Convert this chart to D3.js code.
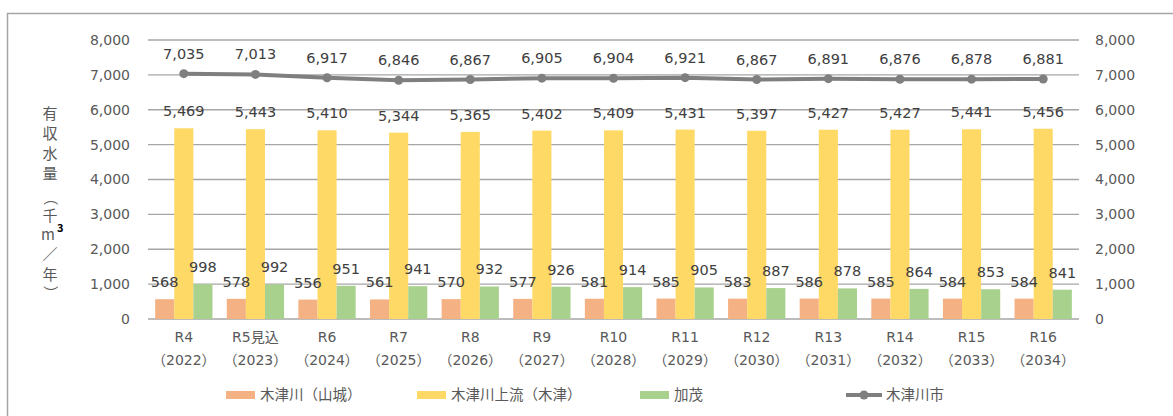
<!DOCTYPE html>
<html>
<head>
<meta charset="utf-8">
<script src="https://cdn.jsdelivr.net/npm/d3@7"></script>
<style>
  body { margin: 0; background: #fff; }
  svg text { font-family: "Noto Sans CJK JP", "Noto Sans", sans-serif; }
  svg text.num { font-family: "DejaVu Sans", "Noto Sans CJK JP", sans-serif; }
</style>
</head>
<body>
<svg id="chart" width="1173" height="416"></svg>
<script>
// data
var categories = ['R4', 'R5見込', 'R6', 'R7', 'R8', 'R9', 'R10', 'R11', 'R12', 'R13', 'R14', 'R15', 'R16'];
var years = ['2022', '2023', '2024', '2025', '2026', '2027', '2028', '2029', '2030', '2031', '2032', '2033', '2034'];
var yamashiro = [568, 578, 556, 561, 570, 577, 581, 585, 583, 586, 585, 584, 584];
var jouryuu = [5469, 5443, 5410, 5344, 5365, 5402, 5409, 5431, 5397, 5427, 5427, 5441, 5456];
var kamo = [998, 992, 951, 941, 932, 926, 914, 905, 887, 878, 864, 853, 841];
var kizugawaShi = [7035, 7013, 6917, 6846, 6867, 6905, 6904, 6921, 6867, 6891, 6876, 6878, 6881];
var yTicks = [0, 1000, 2000, 3000, 4000, 5000, 6000, 7000, 8000];

var barSeries = [
	{ name: '木津川（山城）', values: yamashiro, color: '#F4B183' },
	{ name: '木津川上流（木津）', values: jouryuu, color: '#FFD966' },
	{ name: '加茂', values: kamo, color: '#A9D18E' }
];
var lineSeries = { name: '木津川市', values: kizugawaShi, color: '#7F7F7F' };

var svg = d3.select('#chart');
var fmt = d3.format(',');

var plot = { left: 148, right: 1079, top: 40, bottom: 319 };

// outer frame
svg.append('rect')
	.attr('x', 7.5).attr('y', 13.5)
	.attr('width', 1180).attr('height', 420)
	.attr('fill', 'none')
	.attr('stroke', '#A6A6A6')
	.attr('stroke-width', 1.5);

var x = d3.scaleBand()
	.domain(categories)
	.range([plot.left, plot.right])
	.paddingInner(0.2)
	.paddingOuter(0.1);

var xSub = d3.scaleBand()
	.domain(barSeries.map(function(s) { return s.name; }))
	.range([0, x.bandwidth()]);

var y = d3.scaleLinear()
	.domain([0, 8000])
	.range([plot.bottom, plot.top]);

// gridlines
svg.append('g')
	.selectAll('line')
	.data(yTicks)
	.enter()
	.append('line')
	.attr('x1', plot.left).attr('x2', plot.right)
	.attr('y1', function(d) { return y(d); })
	.attr('y2', function(d) { return y(d); })
	.attr('stroke', '#A6A6A6')
	.attr('stroke-width', 1.3);

// left and right axes
var axisL = svg.append('g')
	.attr('transform', 'translate(' + (plot.left - 18) + ',0)')
	.call(d3.axisLeft(y).tickValues(yTicks).tickFormat(fmt).tickSize(0).tickPadding(0));
var axisR = svg.append('g')
	.attr('transform', 'translate(' + (plot.right + 16) + ',0)')
	.call(d3.axisRight(y).tickValues(yTicks).tickFormat(fmt).tickSize(0).tickPadding(0));

[axisL, axisR].forEach(function(a) {
	a.attr('font-family', null).attr('font-size', null);
	a.select('.domain').remove();
	a.selectAll('text')
		.attr('class', 'num')
		.style('font-size', '14px')
		.attr('fill', '#595959');
});

// flatten bar data once
var barData = [];
barSeries.forEach(function(s) {
	s.values.forEach(function(v, i) { barData.push({ s: s, v: v, i: i }); });
});

function barX(d) { return x(categories[d.i]) + xSub(d.s.name); }

// bars
svg.append('g')
	.selectAll('rect')
	.data(barData)
	.enter()
	.append('rect')
	.attr('x', barX)
	.attr('y', function(d) { return y(d.v); })
	.attr('width', xSub.bandwidth())
	.attr('height', function(d) { return y(0) - y(d.v); })
	.attr('fill', function(d) { return d.s.color; });

// line
var lineGen = d3.line()
	.x(function(d, i) { return x(categories[i]) + x.bandwidth() / 2; })
	.y(function(d) { return y(d); });

svg.append('path')
	.datum(lineSeries.values)
	.attr('d', lineGen)
	.attr('fill', 'none')
	.attr('stroke', lineSeries.color)
	.attr('stroke-width', 4)
	.attr('stroke-linejoin', 'round');

svg.append('g')
	.selectAll('circle')
	.data(lineSeries.values)
	.enter()
	.append('circle')
	.attr('cx', function(d, i) { return x(categories[i]) + x.bandwidth() / 2; })
	.attr('cy', function(d) { return y(d); })
	.attr('r', 4.5)
	.attr('fill', lineSeries.color);

// bar labels (on top of all bars)
svg.append('g')
	.selectAll('text')
	.data(barData)
	.enter()
	.append('text')
	.attr('class', 'num')
	.attr('x', function(d) { return barX(d) + xSub.bandwidth() / 2; })
	.attr('y', function(d) { return y(d.v) - 12; })
	.attr('text-anchor', 'middle')
	.attr('fill', '#404040')
	.style('font-size', '14.5px')
	.text(function(d) { return fmt(d.v); });

// line labels
svg.append('g')
	.selectAll('text')
	.data(lineSeries.values)
	.enter()
	.append('text')
	.attr('class', 'num')
	.attr('x', function(d, i) { return x(categories[i]) + x.bandwidth() / 2; })
	.attr('y', function(d) { return y(d) - 15; })
	.attr('text-anchor', 'middle')
	.attr('fill', '#404040')
	.style('font-size', '14.5px')
	.text(function(d) { return fmt(d); });

// category labels
var xl = svg.append('g')
	.selectAll('text')
	.data(categories)
	.enter()
	.append('text')
	.attr('class', 'num')
	.attr('text-anchor', 'middle')
	.attr('fill', '#595959')
	.style('font-size', '14px');

xl.append('tspan')
	.attr('x', function(d) { return x(d) + x.bandwidth() / 2; })
	.attr('y', 342)
	.text(function(d) { return d; });
xl.append('tspan')
	.attr('x', function(d) { return x(d) + x.bandwidth() / 2; })
	.attr('y', 365)
	.text(function(d, i) { return '（' + years[i] + '）'; });

// vertical axis title
var titleChars = ['有', '収', '水', '量', '（', '千', 'm', '／', '年', '）'];
var titleY = [119, 139, 159, 179, 203, 221, 240, 260, 280, 298];
var title = svg.append('g').attr('fill', '#595959').style('font-size', '15px');
titleChars.forEach(function(c, i) {
	var t = title.append('text')
		.attr('x', 50).attr('y', titleY[i])
		.attr('text-anchor', 'middle')
		.attr('transform', (c === '（' || c === '）') ? 'rotate(90,50,' + (titleY[i] - 5) + ')' : null)
		.text(c);
	if (c === 'm') {
		t.attr('x', 48);
		title.append('text')
			.attr('x', 57).attr('y', titleY[i] - 8)
			.attr('fill', '#000')
			.style('font-size', '11px')
			.style('font-weight', 'bold')
			.text('3');
	}
});

// legend
var legendBars = [226, 417, 640];
var legend = svg.append('g').style('font-size', '14.5px');
barSeries.forEach(function(s, i) {
	legend.append('rect')
		.attr('x', legendBars[i]).attr('y', 391)
		.attr('width', 29).attr('height', 8)
		.attr('fill', s.color);
	legend.append('text')
		.attr('x', legendBars[i] + 34).attr('y', 400)
		.attr('fill', '#595959')
		.text(s.name);
});
legend.append('line')
	.attr('x1', 846).attr('x2', 882)
	.attr('y1', 395).attr('y2', 395)
	.attr('stroke', lineSeries.color)
	.attr('stroke-width', 4);
legend.append('circle')
	.attr('cx', 864).attr('cy', 395).attr('r', 4.5)
	.attr('fill', lineSeries.color);
legend.append('text')
	.attr('x', 886).attr('y', 400)
	.attr('fill', '#595959')
	.text(lineSeries.name);
</script>
</body>
</html>
